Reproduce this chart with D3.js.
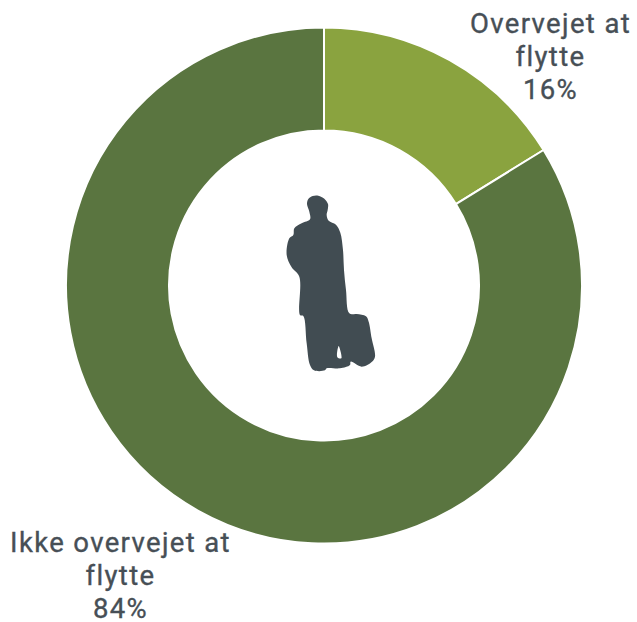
<!DOCTYPE html>
<html>
<head>
<meta charset="utf-8">
<script src="https://cdn.jsdelivr.net/npm/d3@7"></script>
<style>
  html, body { margin: 0; padding: 0; background: #fff; }
  svg { display: block; }
  .label { font-family: Roboto, sans-serif; font-size: 27.5px; font-weight: 400; letter-spacing: 1.35px; fill: #474f56; stroke: #474f56; stroke-width: 0.35px; text-anchor: middle; }
</style>
</head>
<body>
<svg width="637" height="622"></svg>
<script>
var categories = ["Overvejet at flytte", "Ikke overvejet at flytte"];
var shares = [16.2, 83.8];
var labelLines = [["Overvejet at", "flytte", "16%"], ["Ikke overvejet at", "flytte", "84%"]];
var colors = ["#8aa33f", "#5a7540"];

var svg = d3.select("svg");
var cx = 324, cy = 285.5, outer = 258, inner = 155;

var pie = d3.pie().sort(null).value(function(d) { return d; });
var arc = d3.arc().innerRadius(inner).outerRadius(outer);

var g = svg.append("g").attr("transform", "translate(" + cx + "," + cy + ")");

g.selectAll("path")
  .data(pie(shares))
  .enter().append("path")
  .attr("d", arc)
  .attr("fill", function(d, i) { return colors[i]; })
  .attr("stroke", "#fff")
  .attr("stroke-width", 2);

// label anchor and baseline of the first line, one per slice
var labelPos = [[550.5, 33], [120.5, 552]];
var lineStep = 33;

svg.selectAll("text.label")
  .data(labelLines)
  .enter().append("text")
  .attr("class", "label")
  .attr("transform", function(d, i) { return "translate(" + labelPos[i][0] + "," + labelPos[i][1] + ")"; })
  .selectAll("tspan")
  .data(function(d) { return d; })
  .enter().append("tspan")
  .attr("x", 0)
  .attr("y", function(d, i) { return i * lineStep; })
  .text(function(d) { return d; });

// person with suitcase (in 3x crop units)
var figure = [[141,72],[145,57],[158,48],[175,47],[193,56],[204,72],[203,90],[200,105],[206,122],[228,134],[241,158],[249,210],[252,270],[258,330],[268,400],[290,402],[318,409],[326,425],[335,475],[345,530],[336,545],[305,560],[272,545],[270,555],[240,565],[200,565],[195,571],[162,571],[150,555],[140,490],[130,408],[120,405],[118,290],[95,262],[80,225],[88,175],[100,165],[103,145],[125,130],[150,118],[148,95]];
var gap = [[236,498],[244,535],[232,532]];
var line = d3.line().curve(d3.curveCatmullRomClosed.alpha(0.5));

svg.append("path")
  .attr("transform", "translate(260,180) scale(0.3333)")
  .attr("fill", "#414c52")
  .attr("fill-rule", "evenodd")
  .attr("d", line(figure) + line(gap));
</script>
</body>
</html>
